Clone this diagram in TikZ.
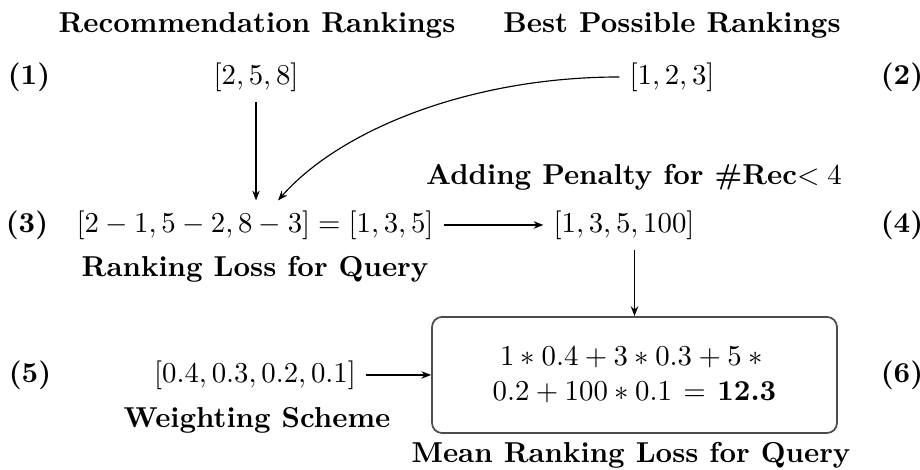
\documentclass[tikz,border=0pt]{standalone}
\usetikzlibrary{arrows.meta}
\begin{document}
\begin{tikzpicture}[x=0.3472pt,y=-0.3472pt,
  lab/.style={font=\bfseries},
  heading/.style={font=\bfseries,anchor=base},
  arr/.style={-{Stealth[length=3.4pt,width=2.6pt]},line width=0.4pt},
  resultbox/.style={draw=black!70,line width=0.6pt,rounded corners=3.5pt,
    minimum width=140.6pt,minimum height=40.3pt,align=center}]
\useasboundingbox (0,0) rectangle (920,470);

% headings of the two input rankings
\node[heading] (hrec)  at (257,33) {Recommendation Rankings};
\node[heading] (hbest) at (672,33) {Best Possible Rankings};

% row 1: inputs
\node[lab] (n1)   at (29,77)  {(1)};
\node      (rec)  at (256,77) {$[2,5,8]$};
\node      (best) at (672,77) {$[1,2,3]$};
\node[lab] (n2)   at (902,77) {(2)};

% row 2: ranking loss and penalty
\node[heading] (hpen) at (634,185) {Adding Penalty for \#Rec\mdseries$<4$};
\node[lab] (n3)   at (27,225)  {(3)};
\node      (diff) at (255,225) {$[2-1,5-2,8-3]=[1,3,5]$};
\node      (pen)  at (624,225) {$[1,3,5,100]$};
\node[lab] (n4)   at (902,225) {(4)};
\node[heading] (hloss) at (255,277) {Ranking Loss for Query};

% row 3: weighting and result
\node[lab] (n5) at (30,375)  {(5)};
\node      (w)  at (255,375) {$[0.4,0.3,0.2,0.1]$};
\node[resultbox] (box) at (634.5,375)
  {$1*0.4+3*0.3+5*{}$\\$0.2+100*0.1$\hspace{4pt}=\hspace{4pt}\textbf{12.3}};
\node[lab] (n6) at (902,375) {(6)};
\node[heading] (hw)    at (257,428) {Weighting Scheme};
\node[heading] (hmean) at (631,463) {Mean Ranking Loss for Query};

% connectors
\coordinate (tip) at ([xshift=8pt]diff.north);
\draw[arr] (rec.south) -- (rec.south |- diff.north);
\draw[arr] (best.west) .. controls (470,77) and (340,130) .. (tip);
\draw[arr] (diff.east) -- (pen.west);
\draw[arr] (box.north |- pen.south) -- (box.north);
\draw[arr] (w.east) -- (box.west);
\end{tikzpicture}
\end{document}
